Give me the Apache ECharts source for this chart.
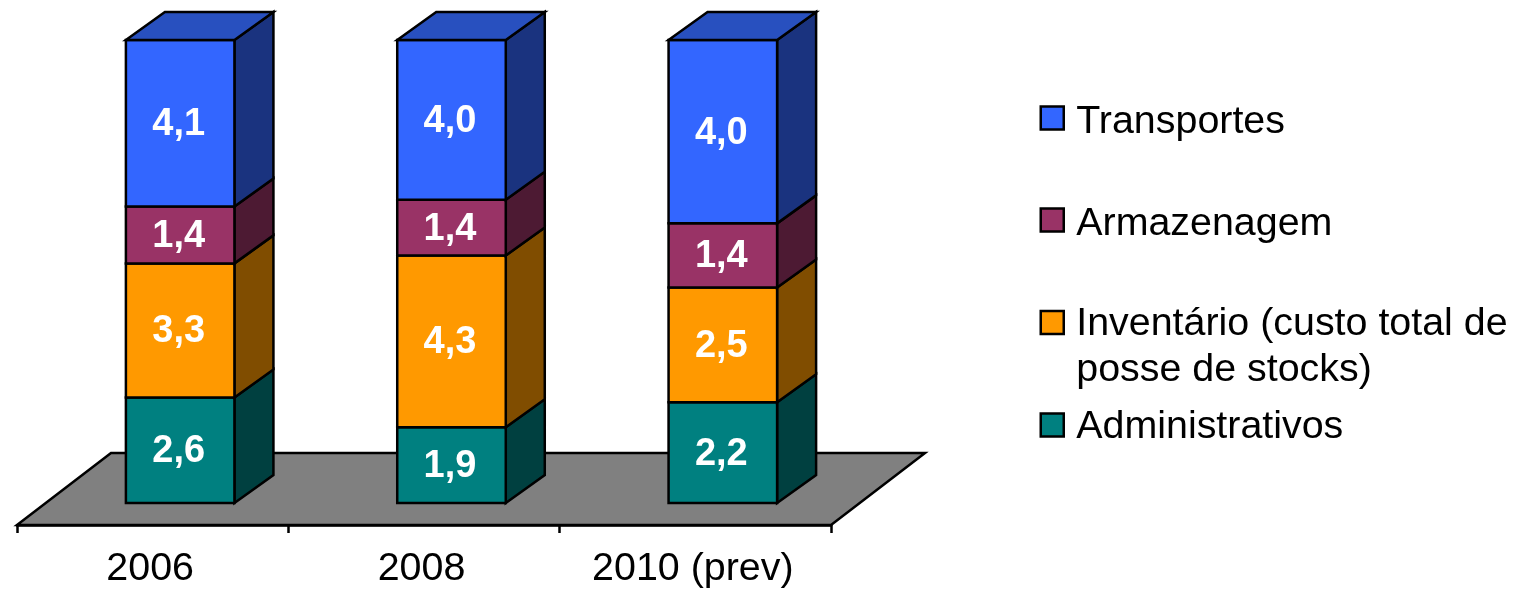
<!DOCTYPE html>
<html>
<head>
<meta charset="utf-8">
<style>html,body{margin:0;padding:0;background:#fff}#c{width:1518px;height:591px}</style>
<script src="https://cdn.jsdelivr.net/npm/echarts@6/dist/echarts.min.js"></script>
</head>
<body>
<div id="c"></div>
<script>
var categories = ['2006', '2008', '2010 (prev)'];
var administrativos = [2.6, 1.9, 2.2];
var inventario = [3.3, 4.3, 2.5];
var armazenagem = [1.4, 1.4, 1.4];
var transportes = [4.1, 4.0, 4.0];

var layers = [
  { name: 'Administrativos', values: administrativos, front: '#008080', side: '#004040', legendTop: 403.5, tag: 'a' },
  { name: 'Inventário (custo total de posse de stocks)', values: inventario, front: '#FF9900', side: '#804D00', legendTop: 257 },
  { name: 'Armazenagem', values: armazenagem, front: '#993366', side: '#4D1A33', legendTop: 196.5, tag: 's' },
  { name: 'Transportes', values: transportes, front: '#3366FF', side: '#1A337F', top: '#2850BF', legendTop: 94.5, tag: 's' }
];

var FONT = '"Liberation Sans", Arial, sans-serif';
var DX = 39, DY = -28;      // oblique depth of the 3D boxes
var FLOOR_DX = 94, FLOOR_DY = -72;
var BAR_SHIFT = 27.5;
var FLOOR_MARGIN = 22 / 463; // floor front edge sits this far below the foot of the 100% bars
var LINE = { stroke: '#000', lineWidth: 2.5, lineJoin: 'miter' };

function poly(points, fill) {
  return { type: 'polygon', shape: { points: points }, style: Object.assign({ fill: fill }, LINE) };
}

function layerSeries(layer, idx) {
  var data = categories.map(function (c, i) {
    var total = 0, below = 0;
    layers.forEach(function (l, k) { total += l.values[i]; if (k < idx) below += l.values[i]; });
    return [i, below / total, (below + layer.values[i]) / total, layer.values[i]];
  });
  return {
    type: 'custom',
    name: layer.name,
    z: 3 + idx,
    itemStyle: { color: layer.front },
    data: data,
    encode: { x: 0, y: [1, 2] },
    renderItem: function (params, api) {
      var low = api.coord([api.value(0), api.value(1)]);
      var high = api.coord([api.value(0), api.value(2)]);
      var w = api.size([1, 0])[0] * 0.4;
      var x0 = low[0] + BAR_SHIFT - w / 2, x1 = x0 + w;
      var y0 = low[1], y1 = high[1];
      var kids = [
        poly([[x1, y0], [x1 + DX, y0 + DY], [x1 + DX, y1 + DY], [x1, y1]], layer.side),
        poly([[x0, y0], [x1, y0], [x1, y1], [x0, y1]], layer.front)
      ];
      if (layer.top) {
        kids.push(poly([[x0, y1], [x1, y1], [x1 + DX, y1 + DY], [x0 + DX, y1 + DY]], layer.top));
      }
      kids.push({
        type: 'text',
        style: {
          x: (x0 + x1) / 2 - 1.5, y: (y0 + y1) / 2 + 1.5,
          text: api.value(3).toFixed(1).replace('.', ','),
          fill: '#fff', font: 'bold 38px ' + FONT,
          textAlign: 'center', textVerticalAlign: 'middle'
        }
      });
      return { type: 'group', children: kids };
    }
  };
}

var floorSeries = {
  type: 'custom',
  name: 'Base',
  z: 1,
  silent: true,
  data: [[0, 0]],
  renderItem: function (params) {
    var g = params.coordSys;
    var y = g.y + g.height, l = g.x, r = g.x + g.width;
    return poly([[l, y], [r, y], [r + FLOOR_DX, y + FLOOR_DY], [l + FLOOR_DX, y + FLOOR_DY]], '#808080');
  }
};

var legendRich = {
  s: { fontFamily: FONT, fontSize: 39.4, lineHeight: 46, color: '#000', padding: [8, 0, 0, 0] },
  a: { fontFamily: FONT, fontSize: 39.4, lineHeight: 46, color: '#000', padding: [4, 0, 0, 0] },
  t: { fontFamily: FONT, fontSize: 39.4, lineHeight: 46, color: '#000' },
  b: { fontFamily: FONT, fontSize: 39.4, lineHeight: 50, color: '#000' }
};

var legends = layers.map(function (layer) {
  return {
    left: 1039.5,
    top: layer.legendTop,
    orient: 'vertical',
    padding: 0,
    itemWidth: 23,
    itemHeight: 23,
    itemGap: 0,
    selectedMode: false,
    formatter: function (n) {
      return layer.tag
        ? '{' + layer.tag + '|' + n + '}'
        : '{b| }\n{t|Inventário (custo total de}\n{t|posse de stocks)}';
    },
    textStyle: { fontFamily: FONT, fontSize: 39.4, color: '#000', padding: [0, 0, 0, 7.5], rich: legendRich },
    data: [{ name: layer.name, icon: 'rect', itemStyle: { color: layer.front, borderColor: '#000', borderWidth: 2.5 } }]
  };
});

var chart = echarts.init(document.getElementById('c'));
chart.setOption({
  animation: false,
  backgroundColor: '#fff',
  legend: legends,
  grid: { left: 17, width: 814, top: 40, height: 485, containLabel: false },
  xAxis: {
    type: 'category',
    data: categories,
    z: 2,
    axisLine: { onZero: false, lineStyle: { color: '#000', width: 2.5 } },
    axisTick: { show: true, length: 8, lineStyle: { color: '#000', width: 2.5 } },
    axisLabel: { color: '#000', fontFamily: FONT, fontSize: 39.4, margin: 25, padding: [0, 5, 0, 0] },
    splitLine: { show: false }
  },
  yAxis: { type: 'value', min: -FLOOR_MARGIN, max: 1, show: false, splitLine: { show: false } },
  series: [floorSeries].concat(layers.map(layerSeries))
});
</script>
</body>
</html>
